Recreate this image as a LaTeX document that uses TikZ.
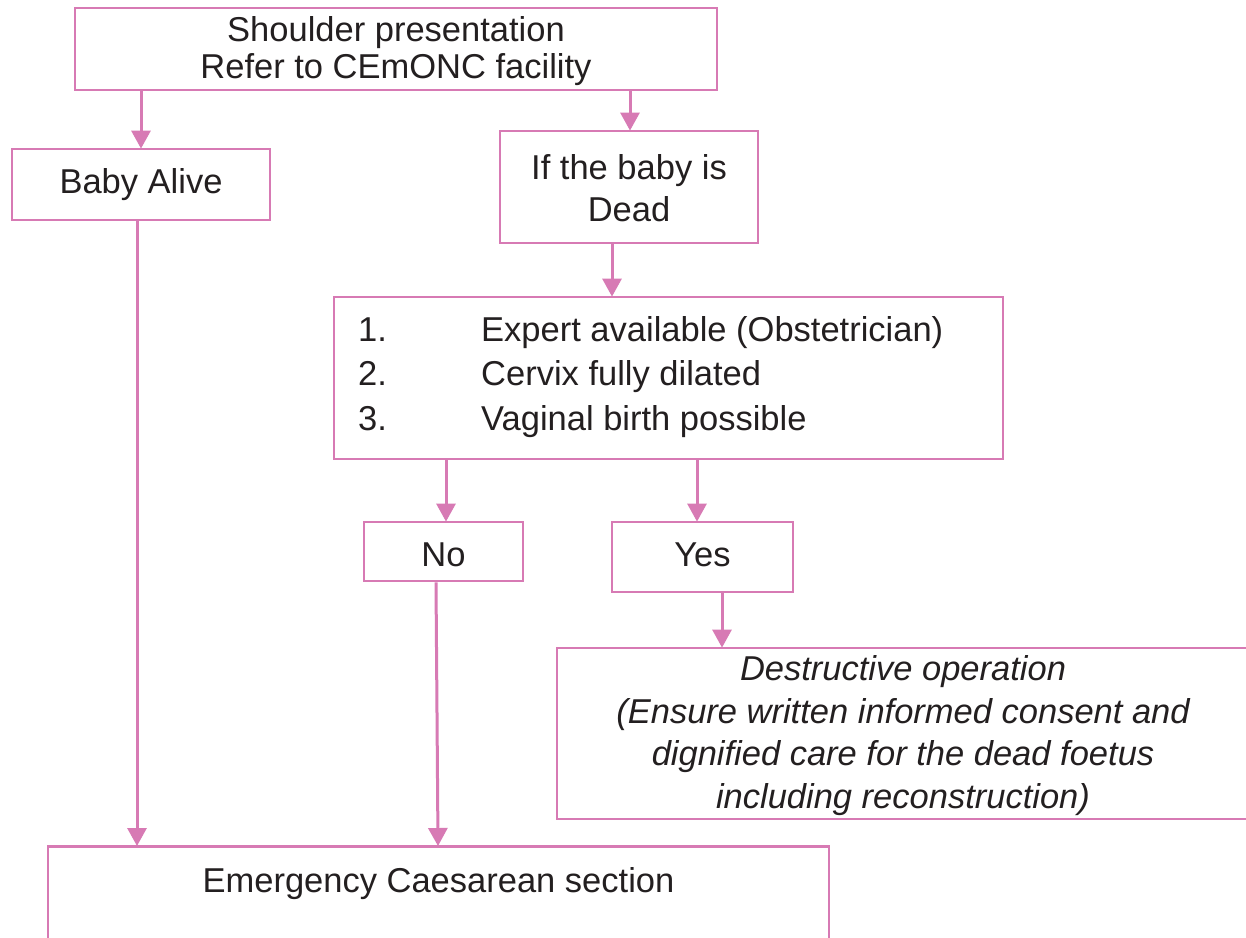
\documentclass[tikz,border=0pt]{standalone}
\usepackage{fontspec}
\setmainfont{Liberation Sans}
\usetikzlibrary{arrows.meta,calc}
\definecolor{flowpink}{RGB}{215,122,180}
\definecolor{ink}{RGB}{35,31,32}
\tikzset{
  box/.style={draw=flowpink, line width=2.8pt, fill=white, inner sep=0pt},
  txt/.style={text=ink, font=\fontsize{34.5}{37}\selectfont, align=center, inner sep=0pt},
  flow/.style={draw=flowpink, line width=3pt,
    -{Triangle[length=18pt,width=19pt]}, shorten >=-1pt},
}
\begin{document}
\begin{tikzpicture}[x=1pt,y=-1pt]
\useasboundingbox (0,0) rectangle (1246,937);
\clip (0,0) rectangle (1246,937);
\fill[white] (0,0) rectangle (1246,937);

% boxes
\node[box, minimum width=642, minimum height=82] (top) at (396,49) {};
\node[txt] at (396,51) {Shoulder presentation\\Refer to CEmONC facility};

\node[box, minimum width=258, minimum height=71] (alive) at (141,184.5) {};
\node[txt] at (141,185) {Baby Alive};

\node[box, minimum width=258, minimum height=112] (dead) at (629,187) {};
\node[txt, font=\fontsize{34.5}{42}\selectfont] at (629,188) {If the baby is\\Dead};

\node[box, minimum width=669, minimum height=162] (crit) at (668.5,378) {};
\node[txt, font=\fontsize{34.5}{44.5}\selectfont, align=left, anchor=west] at (358,377)
  {\makebox[123pt][l]{1.}Expert available (Obstetrician)\\
   \makebox[123pt][l]{2.}Cervix fully dilated\\
   \makebox[123pt][l]{3.}Vaginal birth possible};

\node[box, minimum width=159, minimum height=59] (no) at (443.5,551.5) {};
\node[txt] at (443.5,555) {No};

\node[box, minimum width=181, minimum height=70] (yes) at (702.5,557) {};
\node[txt] at (702.5,555) {Yes};

\node[box, minimum width=692, minimum height=171] (destr) at (903,733.5) {};
\node[txt, font=\itshape\fontsize{34.5}{42.5}\selectfont] at (903,735.5)
  {Destructive operation\\(Ensure written informed consent and\\dignified care for the dead foetus\\including reconstruction)};

\node[box, minimum width=781, minimum height=140, anchor=north] (ecs) at (438.5,845) {};
\node[txt] at (438.5,884) {Emergency Caesarean section};

% connectors
\draw[flow] (top.south -| alive) -- (alive.north);
\draw[flow] ($(top.south)+(234,0)$) -- ($(dead.north)+(1,0)$);
\draw[flow] ($(dead.south)+(-17,0)$) -- ($(crit.north)+(-56.5,0)$);
\draw[flow] ($(crit.south)+(-222.5,0)$) -- ($(no.north)+(2.5,0)$);
\draw[flow] ($(crit.south)+(28.5,0)$) -- ($(yes.north)+(-5.5,0)$);
\draw[flow] ($(yes.south)+(19.5,0)$) -- (destr.north -| {$(yes.south)+(19.5,0)$});
\draw[flow] ($(alive.south)+(-4,0)$) -- ($(ecs.north)+(-301.5,0)$);
\draw[flow] ($(no.south)+(-7.5,0)$) -- ($(ecs.north)+(-0.5,0)$);
\end{tikzpicture}
\end{document}
